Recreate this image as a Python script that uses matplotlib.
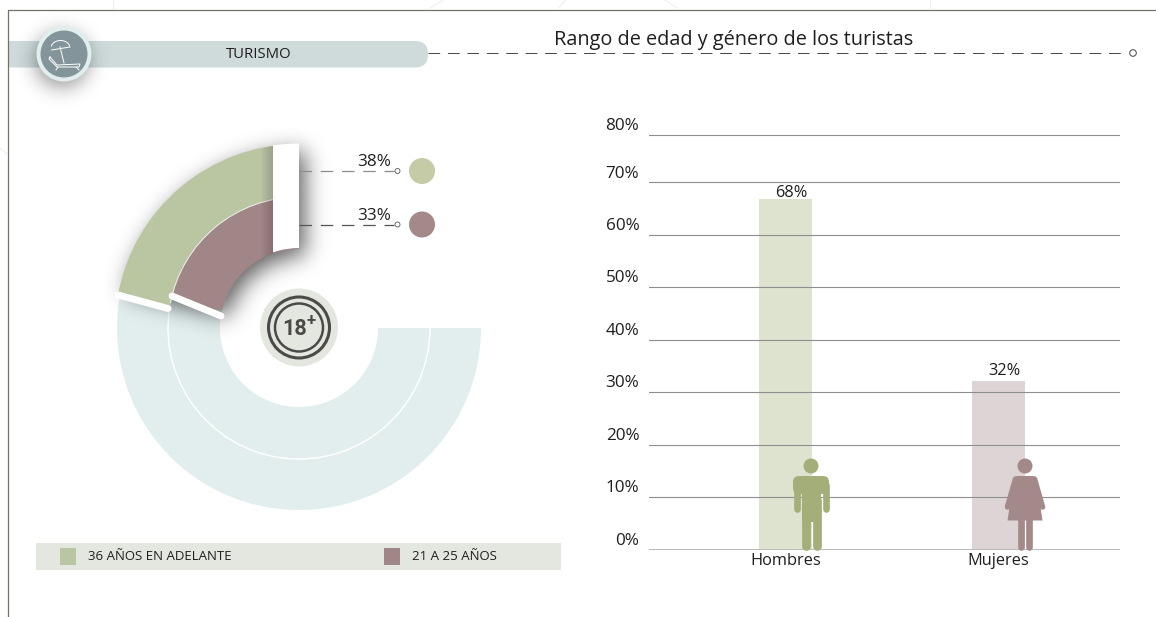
"""Rango de edad y genero de los turistas - infographic panel."""
import numpy as np
import matplotlib
matplotlib.use("Agg")
import matplotlib.pyplot as plt
from matplotlib.patches import Wedge, Circle, Rectangle, Polygon, FancyBboxPatch
from matplotlib.lines import Line2D

plt.rcParams["font.family"] = ["Open Sans", "DejaVu Sans"]

W, H = 1156, 617

# gender bars
genders = ["Hombres", "Mujeres"]
gender_labels = ["68%", "32%"]
gender_heights = [66.8, 32.2]          # as drawn in the picture
tick_values = [0, 10, 20, 30, 40, 50, 60, 70, 79.1]
tick_labels = ["0%", "10%", "20%", "30%", "40%", "50%", "60%", "70%", "80%"]

# age arcs
age_names = ["36 AÑOS EN ADELANTE", "21 A 25 AÑOS"]
age_labels = ["38%", "33%"]
age_sweep_deg = [80, 77]               # as drawn in the picture

GREEN = "#bac5a2"
MAUVE = "#a08686"
PALE = "#e2eeee"
DARK = "#1f1f1f"

fig = plt.figure(figsize=(W / 100, H / 100), dpi=100, facecolor="white")


# ---- bar chart ----
PX_PER_UNIT = 5.243
ax = fig.add_axes([649 / W, 1 - 549.5 / H, 471 / W, 80 * PX_PER_UNIT / H], zorder=1)
ax.set_xlim(-0.641, 1.570)
ax.set_ylim(0, 80)
ax.patch.set_visible(False)
for s in ax.spines.values():
    s.set_visible(False)
ax.bar([0, 1], gender_heights, width=0.249, color=["#dee3d0", "#ddd5d5"], zorder=1)
ax.set_xticks([])
ax.set_yticks([])
for v, lab in zip(tick_values, tick_labels):
    ax.axhline(v, color="#b9b9b9" if v == 0 else "#8e8e8e", lw=1.4 if v == 0 else 0.8, zorder=2)
    ax.annotate(lab, (0, v), xycoords=ax.get_yaxis_transform(), xytext=(-7, 6.4),
                textcoords="offset points", ha="right", va="center", fontsize=12.3, color=DARK)
for i, (g, lab, h, off) in enumerate(zip(genders, gender_labels, gender_heights, [-1.5, 1.5])):
    ax.annotate(g, (i, 0), xytext=(0, -2.5), textcoords="offset points",
                ha="center", va="top", fontsize=11.8, color=DARK)
    ax.annotate(lab, (i, h), xytext=(4, off), textcoords="offset points",
                ha="center", va="bottom", fontsize=11.8, color=DARK, zorder=3)


# ---- everything else, in pixel coordinates ----
px = fig.add_axes([0, 0, 1, 1], zorder=3)
yy, xx = np.mgrid[0:H, 0:W] + 0.5


def blur(mask, sigma):
    fy = np.fft.fftfreq(H)[:, None]
    fx = np.fft.fftfreq(W)[None, :]
    kernel = np.exp(-2 * (np.pi * sigma) ** 2 * (fx ** 2 + fy ** 2))
    return np.fft.ifft2(np.fft.fft2(mask) * kernel).real.clip(0, 1)


def soft_shadow(mask, sigma, strength, z):
    rgba = np.zeros((H, W, 4))
    rgba[..., 3] = blur(mask.astype(float), sigma) * strength
    px.imshow(rgba, extent=(0, W, H, 0), aspect="auto", interpolation="nearest", zorder=z)


# faint background lines outside the frame
for xs, ys in [([113, 113], [0, 8]), ([443, 430], [0, 8]), ([565, 559], [0, 8]),
               ([665, 677], [0, 8]), ([930, 930], [0, 8]), ([0, 7], [148, 154])]:
    px.add_line(Line2D(xs, ys, color="#efefef", lw=0.8, zorder=0.5))

# frame
px.add_line(Line2D([8, 8, W], [H, 10, 10], color="#70756a", lw=0.9, zorder=1))

# header band
px.add_patch(FancyBboxPatch((-10, 41), 438, 26.5, boxstyle="round,pad=0,rounding_size=13",
                            fc="#cfdbdb", ec="none", zorder=0.8))
px.add_patch(Rectangle((0, 30), 8, 50, fc="white", ec="none", zorder=0.9))
soft_shadow((xx - 62) ** 2 + (yy - 60) ** 2 < 27 ** 2, 10, 0.42, 1.5)
px.add_patch(Circle((64, 54), 27.5, fc=PALE, ec="none", zorder=2))
px.add_patch(Circle((64, 54), 23.5, fc="#83959a", ec="none", zorder=2.1))
theta = np.linspace(np.radians(195), np.radians(345), 30)
px.plot(60.5 + 9.5 * np.cos(theta), 48 + 7.5 * np.sin(theta), color="white", lw=0.7, zorder=2.2)
px.add_line(Line2D([51.5, 70], [50, 47], color="white", lw=0.7, zorder=2.2))
px.add_line(Line2D([60, 64], [47, 63], color="white", lw=0.7, zorder=2.2))
px.add_line(Line2D([50, 57, 80, 79, 57, 49, 50], [57, 65, 64, 67, 67, 59, 57], color="white", lw=0.7, zorder=2.2))
px.add_line(Line2D([58, 56], [67, 70], color="white", lw=0.7, zorder=2.2))
px.add_line(Line2D([76, 79], [67, 70], color="white", lw=0.7, zorder=2.2))

px.text(258.5, 54.5, "TURISMO", ha="center", va="center", fontsize=10.7, color=DARK, zorder=2)
px.text(734, 39.5, "Rango de edad y género de los turistas", ha="center", va="center",
        fontsize=14.3, color=DARK, zorder=2)
px.add_line(Line2D([428, 1126], [53, 53], color="#444444", lw=0.7, dashes=(12, 8), zorder=2))
px.add_patch(Circle((1133, 53), 3.3, fc="white", ec="#444444", lw=0.7, zorder=2))

# donut
CX, CY = 299, 328
R_OUT, R_MID, R_IN = 182, 131, 79
px.add_patch(Wedge((CX, CY), R_OUT, 0, 195, width=R_OUT - R_IN, fc=PALE, ec="none", zorder=2))
px.add_patch(Wedge((CX, CY), R_MID + 0.7, 0, 195, width=1.4, fc="white", ec="none", zorder=2.1))

# the raised green band sits a little proud of the pale track
R_RAISED = R_OUT + 2

# shadow of the raised arcs, offset to the lower right
sx, sy = xx - CX - 6, yy - CY - 7
sr = np.hypot(sx, sy)
sa = np.degrees(np.arctan2(sy, sx)) % 360
soft_shadow((sr < R_RAISED) & (sr > R_IN) & (sa > 270 - age_sweep_deg[1]) & (sa < 270), 11, 0.62, 3)

bands = [(R_RAISED, R_RAISED - R_MID, GREEN), (R_MID, R_MID - R_IN, MAUVE)]
clip_cap = Rectangle((273, 130), 26, 230, transform=px.transData)
arcs = []
for (r, w, col), sweep in zip(bands, age_sweep_deg):
    wedge = Wedge((CX, CY), r, 270 - sweep, 270, width=w, fc=col, ec="none", zorder=4)
    px.add_patch(wedge)
    arcs.append(wedge)
px.add_patch(Wedge((CX, CY), R_MID + 0.5, 191, 270, width=1, fc="#f3f3ef", ec="none", zorder=4.1))

# white end caps and the soft shade they drop on the arcs
for wedge in arcs:
    for step in range(1, 13):
        shade = Rectangle((273 - step, 130), step, 230, fc="black", ec="none", alpha=0.012, zorder=4.2)
        px.add_patch(shade)
        shade.set_clip_path(wedge)
for r, w in [(R_RAISED + 0.5, R_RAISED - R_MID), (R_MID + 1, R_MID - R_IN)]:
    cap = Wedge((CX, CY), r, 240, 270, width=w, fc="white", ec="none", zorder=4.5)
    px.add_patch(cap)
    cap.set_clip_path(clip_cap)

# white separators at the low end of the arcs
for xs, ys in [([118, 168], [295, 308.5]), ([172, 221], [296, 316])]:
    px.add_line(Line2D(xs, ys, color="white", lw=5, solid_capstyle="round", zorder=5))

# leaders and value dots
LEADER_Y = [171, 224.5]
DOT_COLS = ["#c4cba6", "#a38a89"]
LEADER_COLS = ["#8c8c8c", "#555555"]
for y, lab, dot, lc in zip(LEADER_Y, age_labels, DOT_COLS, LEADER_COLS):
    px.add_line(Line2D([299, 394], [y, y], color=lc, lw=0.9, dashes=(10, 7), zorder=5))
    px.add_patch(Circle((397.5, y), 2.5, fc="white", ec="#555555", lw=0.6, zorder=5))
    px.add_patch(Circle((422, y), 13, fc=dot, ec="none", zorder=5))
    px.text(391, y - 1, lab, ha="right", va="bottom", fontsize=12.3, color=DARK, zorder=5)

# 18+ badge
px.add_patch(Circle((CX, CY - 0.5), 39, fc="#e4e7df", ec="none", zorder=6))
px.add_patch(Circle((CX, CY - 0.5), 30.5, fc="none", ec="#4a4a48", lw=2.2, zorder=6.1))
px.add_patch(Circle((CX, CY - 0.5), 24, fc="none", ec="#4a4a48", lw=1.8, zorder=6.1))
px.text(CX - 4.5, CY + 1, "18", ha="center", va="center", fontsize=15.5, fontweight="bold",
        family=["Roboto", "DejaVu Sans"], color="#4a4a48", zorder=6.2)
px.text(CX + 12, CY - 7, "+", ha="center", va="center", fontsize=12, fontweight="bold",
        family=["Roboto", "DejaVu Sans"], color="#4a4a48", zorder=6.2)

# legend band
px.add_patch(Rectangle((36, 543), 525, 27, fc="#e4e7df", ec="none", zorder=2))
for x, tx, col, name in zip([60, 384], [88, 412], [GREEN, MAUVE], age_names):
    px.add_patch(Rectangle((x, 548), 16, 17, fc=col, ec="none", zorder=3))
    px.text(tx, 556.5, name, ha="left", va="center", fontsize=9.5, color=DARK, zorder=3)

# man pictogram
MAN = "#a4ae78"
px.add_patch(Circle((811, 466), 7.5, fc=MAN, ec="none", zorder=8))
px.add_patch(FancyBboxPatch((793, 476), 36, 18, boxstyle="round,pad=0,rounding_size=6",
                            fc=MAN, ec="none", zorder=8))
px.add_patch(Rectangle((801.5, 480), 19.5, 42, fc=MAN, ec="none", zorder=8))
for x in [796.5, 825.5]:
    px.add_line(Line2D([x, x], [485, 509], color=MAN, lw=4.8, solid_capstyle="round", zorder=8))
for x in [806.2, 816.8]:
    px.add_line(Line2D([x, x], [500, 545.5], color=MAN, lw=6.3, solid_capstyle="round", zorder=8))

# woman pictogram
WOMAN = "#a38a89"
px.add_patch(Circle((1025, 466), 7.5, fc=WOMAN, ec="none", zorder=8))
px.add_patch(Polygon([(1017, 476), (1033, 476), (1036, 478), (1042.5, 520.5), (1007.5, 520.5), (1014, 478)],
                     closed=True, fc=WOMAN, ec="none", zorder=8))
px.add_line(Line2D([1015.5, 1007.5], [479, 507], color=WOMAN, lw=4, solid_capstyle="round", zorder=8))
px.add_line(Line2D([1034.5, 1042.5], [479, 507], color=WOMAN, lw=4, solid_capstyle="round", zorder=8))
for x in [1020.5, 1029]:
    px.add_line(Line2D([x, x], [515, 546.5], color=WOMAN, lw=4.8, solid_capstyle="round", zorder=8))

px.set_xlim(0, W)
px.set_ylim(H, 0)
px.axis("off")

fig.savefig("out.png", dpi=100)
